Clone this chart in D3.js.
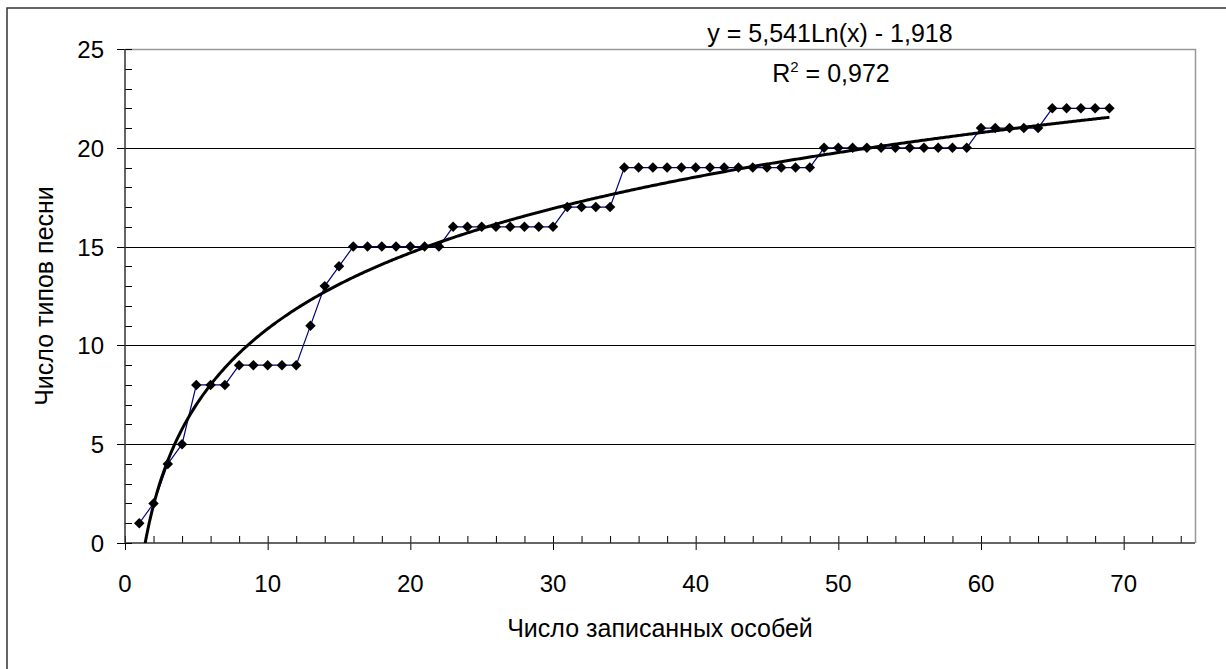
<!DOCTYPE html>
<html>
<head>
<meta charset="utf-8">
<script src="https://cdn.jsdelivr.net/npm/d3@7"></script>
<style>
  body { margin: 0; background: #fff; }
  text { font-family: "Liberation Sans", Arial, sans-serif; fill: #000; }
</style>
</head>
<body>
<svg id="chart" width="1226" height="669"></svg>
<script>
// number of song types found after each recorded bird (bird 1 .. 69)
var songTypes = [1, 2, 4, 5, 8, 8, 8, 9, 9, 9, 9, 9, 11, 13, 14, 15, 15, 15, 15, 15, 15, 15,
  16, 16, 16, 16, 16, 16, 16, 16, 17, 17, 17, 17,
  19, 19, 19, 19, 19, 19, 19, 19, 19, 19, 19, 19, 19, 19,
  20, 20, 20, 20, 20, 20, 20, 20, 20, 20, 20,
  21, 21, 21, 21, 21,
  22, 22, 22, 22, 22];

var xTicks = [0, 10, 20, 30, 40, 50, 60, 70];
var yTicks = [0, 5, 10, 15, 20, 25];

// log trend from the chart: y = 5,541Ln(x) - 1,918
var trendA = 5.541, trendB = -1.918;
var trendLabel = "y = 5,541Ln(x) - 1,918";
var r2Label = "0,972";

var xTitle = "Число записанных особей";
var yTitle = "Число типов песни";

var svg = d3.select("#chart");

var plotL = 125, plotR = 1195, plotT = 49, plotB = 543;

var x = d3.scaleLinear().domain([0, 75]).range([plotL, plotR]);
var y = d3.scaleLinear().domain([0, 25]).range([plotB, plotT]);

var points = songTypes.map((v, i) => ({ n: i + 1, v: v }));

// outer chart frame (runs off the picture at right and bottom)
svg.append("rect")
  .attr("x", 7).attr("y", 8)
  .attr("width", 1400).attr("height", 800)
  .attr("fill", "none")
  .attr("stroke", "#333")
  .attr("stroke-width", 1.5);

// gridlines
svg.append("g")
  .selectAll("line")
  .data(yTicks.filter(d => d > 0 && d < 25))
  .enter().append("line")
    .attr("x1", plotL).attr("x2", plotR)
    .attr("y1", d => Math.round(y(d)) + 0.5)
    .attr("y2", d => Math.round(y(d)) + 0.5)
    .attr("stroke", "#000")
    .attr("stroke-width", 1);

// plot area border top and right
svg.append("path")
  .attr("d", "M" + plotL + "," + (plotT + 0.5) + "H" + (plotR + 0.5) + "V" + plotB)
  .attr("fill", "none")
  .attr("stroke", "#999")
  .attr("stroke-width", 1.5);

// x axis: major ticks cross, minor ticks inside
var xAxis = svg.append("g").attr("transform", "translate(0," + plotB + ")");
xAxis.call(d3.axisBottom(x).tickValues(d3.range(0, 76, 2)).tickSize(0).tickFormat(""));
xAxis.select(".domain").remove();
xAxis.selectAll(".tick line").remove();
xAxis.selectAll(".tick").append("line")
  .attr("y1", -7)
  .attr("y2", d => d % 10 === 0 ? 7 : 0)
  .attr("stroke", "#000");
xAxis.append("line")
  .attr("x1", plotL).attr("x2", plotR)
  .attr("stroke", "#333").attr("stroke-width", 1.5);
xAxis.selectAll(".label")
  .data(xTicks)
  .enter().append("text")
    .attr("x", d => x(d))
    .attr("y", 49)
    .attr("text-anchor", "middle")
    .style("font-size", "24px")
    .text(d => d);

// y axis
var yAxis = svg.append("g").attr("transform", "translate(" + plotL + ",0)");
yAxis.selectAll(".minor")
  .data(d3.range(0, 26, 1))
  .enter().append("line")
    .attr("x1", d => d % 5 === 0 ? -8 : 0)
    .attr("x2", 7)
    .attr("y1", d => Math.round(y(d)) + 0.5)
    .attr("y2", d => Math.round(y(d)) + 0.5)
    .attr("stroke", "#000");
yAxis.append("line")
  .attr("y1", plotT).attr("y2", plotB)
  .attr("stroke", "#333").attr("stroke-width", 1.5);
yAxis.selectAll(".label")
  .data(yTicks)
  .enter().append("text")
    .attr("x", -21)
    .attr("y", d => y(d) + 9)
    .attr("text-anchor", "end")
    .style("font-size", "24px")
    .text(d => d);

// axis titles
svg.append("text")
  .attr("x", (plotL + plotR) / 2)
  .attr("y", 637)
  .attr("text-anchor", "middle")
  .style("font-size", "25px")
  .text(xTitle);

svg.append("text")
  .attr("transform", "translate(53," + ((plotT + plotB) / 2) + ") rotate(-90)")
  .attr("text-anchor", "middle")
  .style("font-size", "25px")
  .text(yTitle);

// clip for the trend line
svg.append("clipPath").attr("id", "plotClip")
  .append("rect")
    .attr("x", plotL).attr("y", plotT)
    .attr("width", plotR - plotL).attr("height", plotB - plotT);

// data line
var line = d3.line().x(d => x(d.n)).y(d => y(d.v));
svg.append("path")
  .datum(points)
  .attr("d", line)
  .attr("fill", "none")
  .attr("stroke", "#000080")
  .attr("stroke-width", 1.2);

// trend line
var trend = d3.range(1, 69.001, 0.1).map(t => ({ n: t, v: trendA * Math.log(t) + trendB }));
svg.append("path")
  .datum(trend)
  .attr("clip-path", "url(#plotClip)")
  .attr("d", line)
  .attr("fill", "none")
  .attr("stroke", "#000")
  .attr("stroke-width", 3);

// diamond markers
var diamond = d3.symbol().type(d3.symbolDiamond2).size(70);
svg.append("g")
  .selectAll("path")
  .data(points)
  .enter().append("path")
    .attr("transform", d => "translate(" + x(d.n) + "," + y(d.v) + ")")
    .attr("d", diamond)
    .attr("fill", "#000");

// trend equation
svg.append("text")
  .attr("x", 830)
  .attr("y", 42)
  .attr("text-anchor", "middle")
  .style("font-size", "25px")
  .text(trendLabel);

var r2 = svg.append("text")
  .attr("x", 831)
  .attr("y", 82)
  .attr("text-anchor", "middle")
  .style("font-size", "25px");
r2.append("tspan").text("R");
r2.append("tspan").attr("dy", -10).style("font-size", "15px").text("2");
r2.append("tspan").attr("dy", 10).text(" = " + r2Label);
</script>
</body>
</html>
